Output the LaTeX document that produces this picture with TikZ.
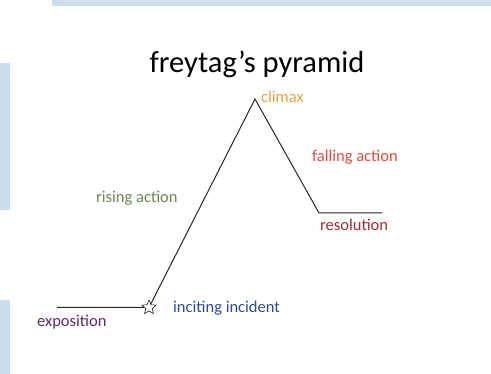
\documentclass[tikz,border=0pt]{standalone}
\usepackage{fontspec}
\setmainfont{Carlito}
\usepackage{xcolor}
\usetikzlibrary{shapes.geometric, positioning}
\definecolor{slideblue}{HTML}{CCDDED}
\definecolor{climaxcol}{HTML}{E9A437}
\definecolor{fallcol}{HTML}{E24B3B}
\definecolor{rescol}{HTML}{A52A2E}
\definecolor{risecol}{HTML}{6B8A4C}
\definecolor{incitecol}{HTML}{2D4B98}
\definecolor{expocol}{HTML}{5C2B6F}

\begin{document}
\begin{tikzpicture}[x=1pt, y=-1pt, lbl/.style={font=\fontsize{16.5}{18}\selectfont, inner sep=0pt},
  plot/.style={black!85, line width=1pt, line join=miter}]
\useasboundingbox (0,0) rectangle (491,374);
%%── Slide decoration bars ────────────────────────────────
\fill[slideblue] (52,0) rectangle (491,6);
\fill[slideblue] (0,63) rectangle (10,210);
\fill[slideblue] (0,300) rectangle (10,374);
%%── Title ────────────────────────────────────────────────
\node[inner sep=0pt, font=\fontsize{30.5}{33}\selectfont] (title) at (257,64) {freytag’s pyramid};
%%── Plot points ──────────────────────────────────────────
\coordinate (expo) at (57,307.5);
\coordinate (peak) at (255,99);
\coordinate (resl) at (319,213);
\coordinate (fin)  at (382,213);
\coordinate (incite) at (149,307.5);
%%── The pyramid line ─────────────────────────────────────
\draw[plot] (expo) -- (incite) -- (peak) -- (resl) -- (fin);
\node[star, star points=5, star point ratio=2.2, draw, fill=white, line width=0.5pt,
      minimum size=15pt, inner sep=0pt] (star) at (incite) {};
%%── Stage labels ─────────────────────────────────────────
\node[lbl, anchor=west, color=climaxcol] (climax) at (261,97) {climax};
\node[lbl, anchor=west, color=fallcol] (falling) at (312,157) {falling action};
\node[lbl, anchor=west, color=rescol] (resolution) at (320,225) {resolution};
\node[lbl, anchor=west, color=risecol] (rising) at (96,198) {rising action};
\node[lbl, anchor=west, color=incitecol] (inciting) at (173,308) {inciting incident};
\node[lbl, anchor=west, color=expocol] (exposition) at (37,322) {exposition};
\end{tikzpicture}
\end{document}
